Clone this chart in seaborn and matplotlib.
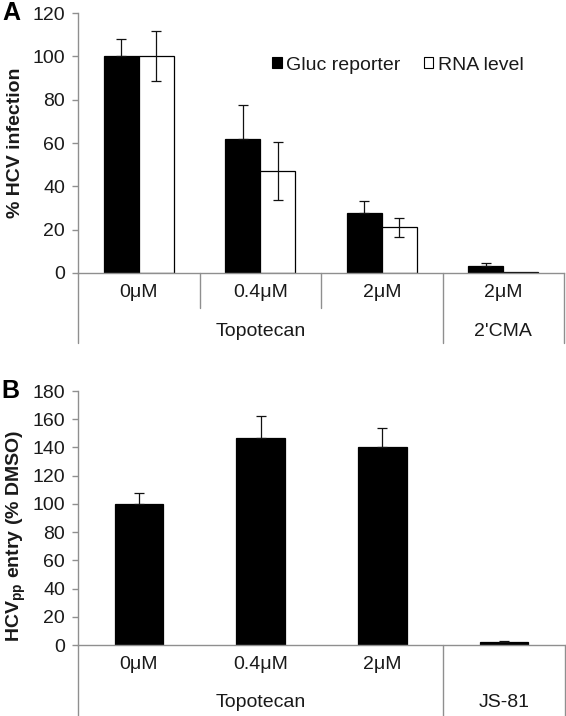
import matplotlib
matplotlib.use("Agg")
import matplotlib.pyplot as plt
import matplotlib.transforms as mtransforms
import seaborn as sns
import pandas as pd
import numpy as np

# ---------------- data ----------------
conc_a = ["0μM", "0.4μM", "2μM", "2μM"]
group_a = ["Topotecan", "Topotecan", "Topotecan", "2'CMA"]
gluc = [100, 61.7, 27.5, 3.0]
gluc_err = [8.0, 15.8, 5.5, 1.5]
rna = [100, 47.0, 21.0, 0.4]
rna_err = [11.5, 13.5, 4.5, 0.0]
series_names = ["Gluc reporter", "RNA level"]

conc_b = ["0μM", "0.4μM", "2μM", ""]
group_b = ["Topotecan", "Topotecan", "Topotecan", "JS-81"]
entry = [100, 147, 140.5, 2.0]
entry_err = [8.0, 15.0, 13.0, 0.6]

# ---------------- style ----------------
sns.set_theme(style="white")
plt.rcParams["font.family"] = ["Liberation Sans", "DejaVu Sans"]
plt.rcParams["mathtext.fontset"] = "custom"
plt.rcParams["mathtext.rm"] = "Liberation Sans"
plt.rcParams["mathtext.bf"] = "Liberation Sans:bold"
FS = 14
GREY = "#8f8f8f"
TXT = "#1a1a1a"

fig = plt.figure(figsize=(5.66, 7.16), dpi=100)
axA = fig.add_axes([78/566, (716-273)/716, 486/566, 260/716])
axB = fig.add_axes([78/566, (716-645)/716, 487/566, 254/716])

# ---------------- panel A ----------------
keys_a = [g + " " + c for g, c in zip(group_a, conc_a)]
dfA = pd.DataFrame({
    "key": keys_a * 2,
    "val": gluc + rna,
    "series": [series_names[0]] * 4 + [series_names[1]] * 4,
})
sns.barplot(data=dfA, x="key", y="val", hue="series", order=keys_a,
            hue_order=series_names, palette=["black", "white"],
            edgecolor="black", linewidth=0.9, width=0.575, errorbar=None,
            ax=axA, zorder=2)
for cont, errs, upper_only in zip(axA.containers, [gluc_err, rna_err], [True, False]):
    xs = [p.get_x() + p.get_width() / 2 for p in cont.patches]
    hs = [p.get_height() for p in cont.patches]
    up = np.array([e if e > 0 else np.nan for e in errs])
    lo = np.zeros_like(up) if upper_only else up
    axA.errorbar(xs, hs, yerr=[lo, up], fmt="none", ecolor="#111111",
                 elinewidth=0.9, capsize=3.6, capthick=0.9, zorder=3)

axA.set_ylim(0, 120)
axA.set_yticks(np.arange(0, 121, 20))
axA.set_xlim(-0.5, 3.5)

# ---------------- panel B ----------------
keys_b = [g + " " + c for g, c in zip(group_b, conc_b)]
dfB = pd.DataFrame({"key": keys_b, "val": entry})
sns.barplot(data=dfB, x="key", y="val", order=keys_b, color="black",
            edgecolor="black", linewidth=0.9, width=0.40, errorbar=None,
            ax=axB, zorder=2)
cont = axB.containers[0]
xs = [p.get_x() + p.get_width() / 2 for p in cont.patches]
hs = [p.get_height() for p in cont.patches]
axB.errorbar(xs, hs, yerr=[np.zeros(len(entry_err)), entry_err], fmt="none",
             ecolor="#111111", elinewidth=0.9, capsize=3.6, capthick=0.9,
             zorder=3)
axB.set_ylim(0, 180)
axB.set_yticks(np.arange(0, 181, 20))
axB.set_xlim(-0.5, 3.5)

# ---------------- common axis styling ----------------
for ax in (axA, axB):
    for s in ("top", "right"):
        ax.spines[s].set_visible(False)
    for s in ("left", "bottom"):
        ax.spines[s].set_color(GREY)
        ax.spines[s].set_linewidth(1.0)
    ax.tick_params(axis="y", direction="out", length=4.3, width=1.0,
                   color=GREY, pad=5, labelsize=FS, labelcolor=TXT, left=True)
    ax.tick_params(axis="x", length=0, pad=8, labelsize=FS, labelcolor=TXT)
    ax.set_xlabel("")
    ax.grid(False)

axA.set_xticks(range(4))
axA.set_xticklabels(conc_a)
axB.set_xticks(range(4))
axB.set_xticklabels(conc_b)

def group_labels(ax, groups, y_frac):
    tr = mtransforms.blended_transform_factory(ax.transData, ax.transAxes)
    uniq = []
    for i, g in enumerate(groups):
        if not uniq or uniq[-1][0] != g:
            uniq.append([g, i, i])
        else:
            uniq[-1][2] = i
    for g, i0, i1 in uniq:
        ax.text((i0 + i1) / 2, y_frac, g, transform=tr, ha="center",
                va="center", fontsize=FS, color=TXT)

def sep(ax, x, y0, y1):
    tr = mtransforms.blended_transform_factory(ax.transData, ax.transAxes)
    ax.plot([x, x], [y0, y1], transform=tr, color=GREY, lw=1.0,
            clip_on=False, zorder=1)

# panel A separators & group labels
sep(axA, -0.5, 0, -0.27)
sep(axA, 0.5, 0, -0.135)
sep(axA, 1.5, 0, -0.135)
sep(axA, 2.5, 0, -0.27)
sep(axA, 3.5, 0, -0.27)
group_labels(axA, group_a, -0.225)

# panel B separators & group labels
sep(axB, -0.5, 0, -0.30)
sep(axB, 2.5, 0, -0.30)
sep(axB, 3.5, 0, -0.30)
group_labels(axB, group_b, -0.228)

# y labels
axA.set_ylabel("% HCV infection", fontsize=FS, fontweight="bold", color=TXT)
axA.yaxis.set_label_coords(-54/486, 0.5)
axB.set_ylabel(r"HCV$_{\mathbf{pp}}$ entry (% DMSO)", fontsize=FS,
               fontweight="bold", color=TXT)
axB.yaxis.set_label_coords(-50/487, 0.43)

# legend
leg = axA.legend(loc="center left", bbox_to_anchor=(0.399, 0.80), ncol=2,
                 frameon=False, fontsize=FS, handlelength=0.5,
                 handleheight=0.5, handletextpad=0.22, columnspacing=1.2,
                 borderpad=0, borderaxespad=0)
for h in leg.legend_handles:
    h.set_edgecolor("black")
    h.set_linewidth(0.8)
for t in leg.get_texts():
    t.set_color(TXT)

# panel letters
fig.text(2/566, 1 - 13/716, "A", fontsize=18, fontweight="bold",
         ha="left", va="center", color="black")
fig.text(1/566, 1 - 391/716, "B", fontsize=18, fontweight="bold",
         ha="left", va="center", color="black")

fig.savefig("out.png", dpi=100, facecolor="white")
